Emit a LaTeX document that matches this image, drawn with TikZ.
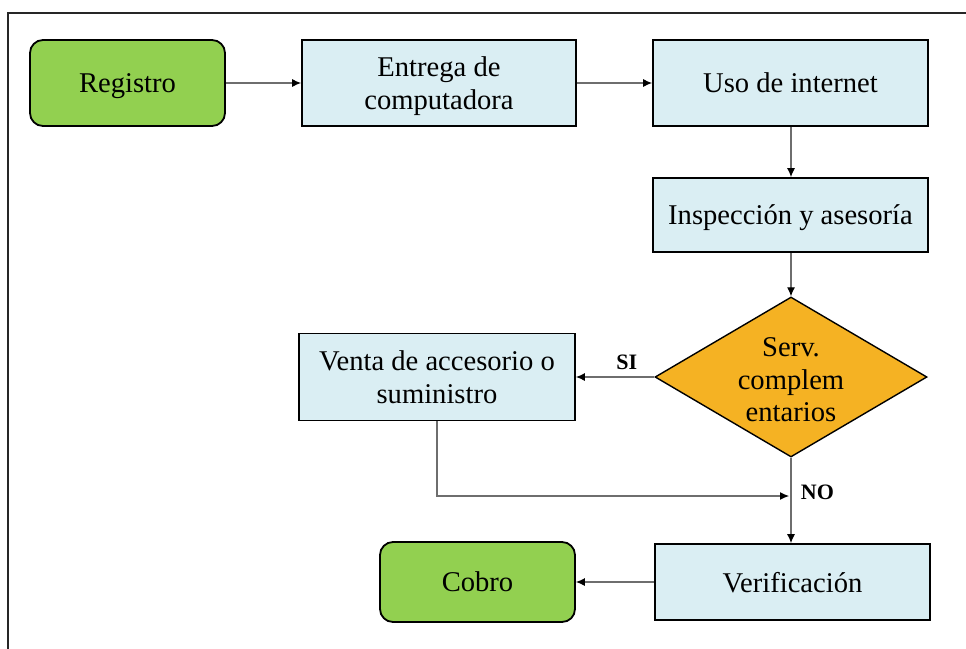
\documentclass[tikz,border=0pt]{standalone}
\usepackage{fontspec}
\setmainfont{Liberation Serif}
\usetikzlibrary{shapes.geometric,arrows.meta}
\definecolor{boxblue}{HTML}{DAEEF3}
\definecolor{boxgreen}{HTML}{92D050}
\definecolor{dorange}{HTML}{F5B223}
\definecolor{lineg}{HTML}{6E6E6E}
\begin{document}
\begin{tikzpicture}[x=1pt,y=-1pt,
  proc/.style={draw=black, line width=1.8pt, fill=boxblue, align=center,
    font=\fontsize{28.6}{33}\selectfont, inner sep=0pt, text depth=0pt},
  term/.style={proc, fill=boxgreen, rounded corners=13pt},
  dec/.style={diamond, draw=black, line width=1.4pt, fill=dorange, inner sep=0pt,
    minimum width=272pt, minimum height=160pt},
  dectext/.style={align=center, font=\fontsize{28.6}{32.5}\selectfont, inner sep=0pt},
  conn/.style={draw=lineg, line width=1.1pt, -{Latex[length=9pt,width=8pt,color=black]}},
  lbl/.style={font=\bfseries\fontsize{22}{24}\selectfont, text=black}]
\useasboundingbox (0,0) rectangle (966,648);
\draw[line width=1.6pt, draw=black!85] (8,700) -- (8,13) -- (1000,13);

\node[term, minimum width=195pt, minimum height=86pt] (reg) at (127.5,83) {Registro};
\node[proc, minimum width=274pt, minimum height=86pt] (ent) at (439,83) {Entrega de\\computadora};
\node[proc, minimum width=275pt, minimum height=86pt] (uso) at (790.5,83) {Uso de internet};
\node[proc, minimum width=275pt, minimum height=74pt] (insp) at (790.5,215) {Inspección y asesoría};
\node[dec] (d) at (791,377) {};
\node[dectext] (dt) at (791,380) {Serv.\\complem\\entarios};
\node[proc, minimum width=276pt, minimum height=87pt] (venta) at (437,377) {Venta de accesorio o\\suministro};
\node[proc, minimum width=275pt, minimum height=76pt] (verif) at (792.5,582) {Verificación};
\node[term, minimum width=195pt, minimum height=80pt] (cobro) at (477.5,582) {Cobro};
\coordinate (join) at (789,496);

\draw[conn] (reg) -- (ent);
\draw[conn] (ent) -- (uso);
\draw[conn] (uso.south -| d.north) -- (insp.north -| d.north);
\draw[conn] (insp.south -| d.north) -- (d.north);
\draw[conn] (d.west) -- node[pos=0.35, above=3pt, lbl] {SI} (venta.east);
\draw[conn] (venta.south) |- (join);
\draw[conn] (d.south) -- node[pos=0.4, right=6pt, lbl] {NO} (d.south |- verif.north);
\draw[conn] (verif) -- (cobro);
\end{tikzpicture}
\end{document}
